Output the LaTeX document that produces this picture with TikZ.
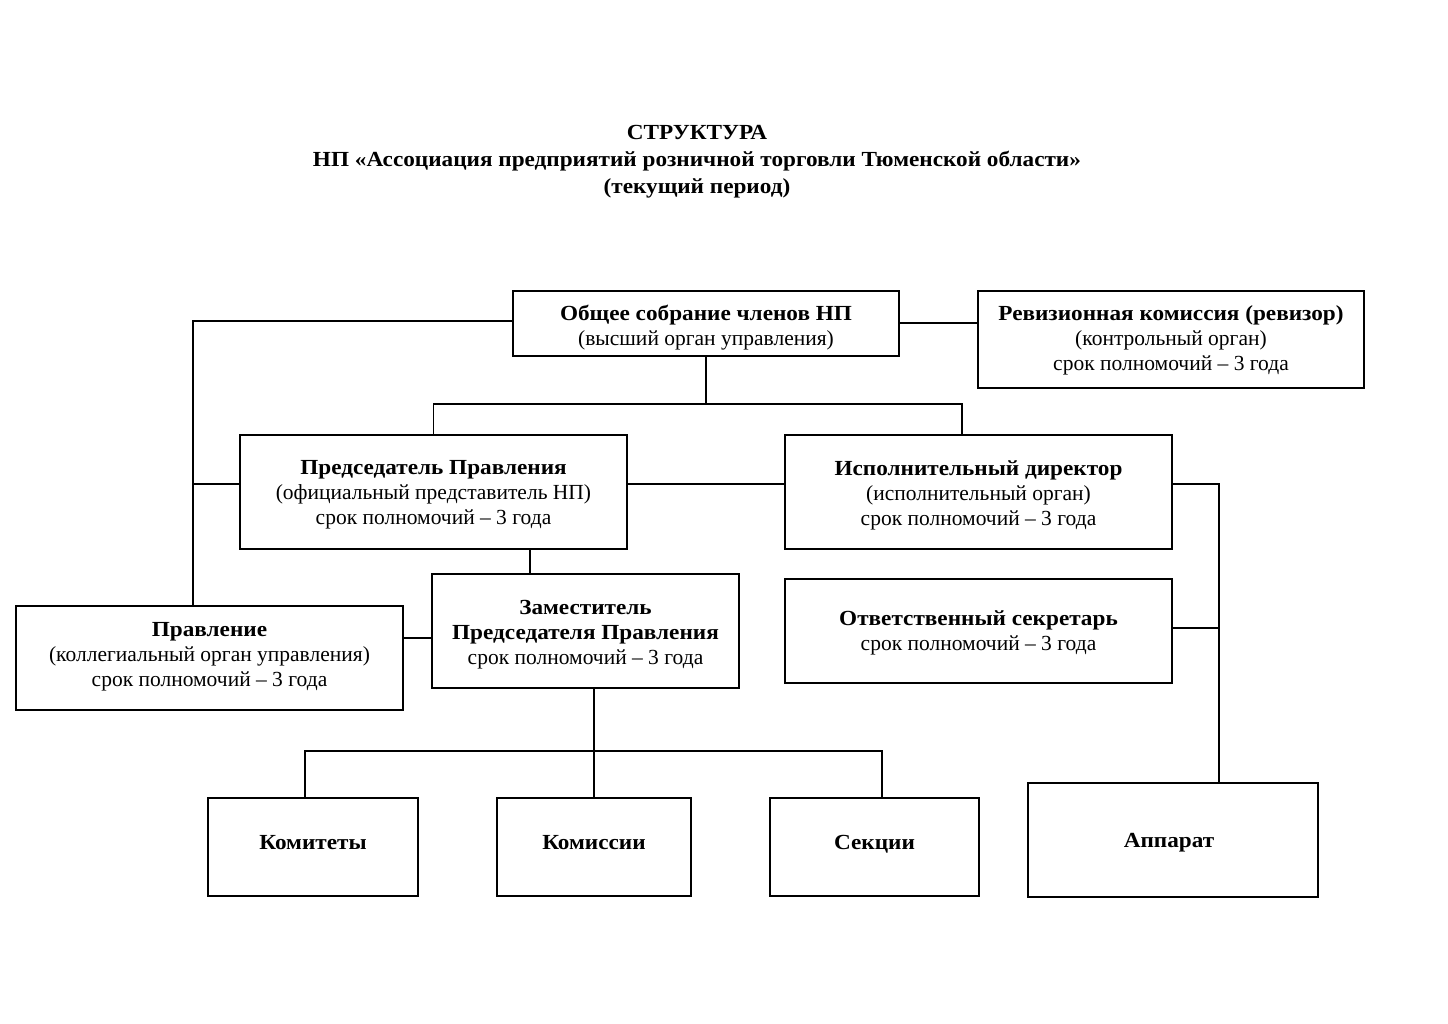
\documentclass[tikz,border=0pt]{standalone}
\usepackage{fontspec}
\setmainfont{Liberation Serif}[BoldFeatures={FakeStretch=1.08}]
\begin{document}
\begin{tikzpicture}[x=1pt,y=-1pt,
  box/.style={draw, line width=1.3pt, inner sep=0pt},
  txt/.style={inner sep=0pt, align=center, font=\fontsize{21.5}{25}\selectfont},
  conn/.style={line width=1.3pt},
  ttl/.style={inner sep=0pt, align=center, font=\fontsize{21.5}{27}\selectfont\bfseries}]
\useasboundingbox[fill=white] (0,0) rectangle (1448,1024);
\node[ttl] (title) at (697,162) {СТРУКТУРА\\НП «Ассоциация предприятий розничной торговли Тюменской области»\\(текущий период)};

\node[box, minimum width=386, minimum height=65] (gen) at (706,323.5) {};
\node[txt] (genT) at (706,328) {\textbf{Общее собрание членов НП}\\(высший орган управления)};
\node[box, minimum width=386, minimum height=97] (rev) at (1171,339.5) {};
\node[txt] (revT) at (1171,340.5) {\textbf{Ревизионная комиссия (ревизор)}\\(контрольный орган)\\срок полномочий – 3 года};
\node[box, minimum width=387, minimum height=114] (pred) at (433.5,492) {};
\node[txt] (predT) at (433.5,495) {\textbf{Председатель Правления}\\(официальный представитель НП)\\срок полномочий – 3 года};
\node[box, minimum width=387, minimum height=114] (isp) at (978.5,492) {};
\node[txt] (ispT) at (978.5,495) {\textbf{Исполнительный директор}\\(исполнительный орган)\\срок полномочий – 3 года};
\node[box, minimum width=387, minimum height=104] (prav) at (209.5,658) {};
\node[txt] (pravT) at (209.5,656.5) {\textbf{Правление}\\(коллегиальный орган управления)\\срок полномочий – 3 года};
\node[box, minimum width=307, minimum height=114] (zam) at (585.5,631) {};
\node[txt] (zamT) at (585.5,634.5) {\textbf{Заместитель}\\\textbf{Председателя Правления}\\срок полномочий – 3 года};
\node[box, minimum width=387, minimum height=104] (otv) at (978.5,631) {};
\node[txt] (otvT) at (978.5,633) {\textbf{Ответственный секретарь}\\срок полномочий – 3 года};
\node[box, minimum width=210, minimum height=98] (kmt) at (313,847) {};
\node[txt, anchor=base] (kmtT) at (313,849) {\textbf{Комитеты}};
\node[box, minimum width=194, minimum height=98] (kms) at (594,847) {};
\node[txt, anchor=base] (kmsT) at (594,849) {\textbf{Комиссии}};
\node[box, minimum width=209, minimum height=98] (sek) at (874.5,847) {};
\node[txt, anchor=base] (sekT) at (874.5,849) {\textbf{Секции}};
\node[box, minimum width=290, minimum height=114] (app) at (1173,840) {};
\node[txt, anchor=base] (appT) at (1169,847) {\textbf{Аппарат}};

\coordinate (jL) at (193,321);
\coordinate (jT) at (706,404);
\coordinate (jB) at (594,751);
\coordinate (jR) at (1219,484);
\coordinate (jP) at (530,549);

\draw[conn] ([yshift=2.5pt]gen.west) -- (jL) -- (jL |- prav.north);
\draw[conn] ([yshift=8pt]pred.west) -- ([yshift=8pt]pred.west -| jL);
\draw[conn] ([yshift=0.5pt]gen.east) -- ([yshift=0.5pt]gen.east -| rev.west);
\draw[conn] (gen.south) -- (jT);
\draw[conn] (pred.north) |- (jT) -| ([xshift=-16.5pt]isp.north);
\draw[conn] ([yshift=8pt]pred.east) -- ([yshift=8pt]isp.west);
\draw[conn] (jP) -- (jP |- zam.north);
\draw[conn] ([yshift=-7pt]zam.west) -- ([yshift=-7pt]zam.west -| prav.east);
\draw[conn] (zam.south -| jB) -- (kms.north);
\draw[conn] ([xshift=-8pt]kmt.north) |- (jB) -| ([xshift=7.5pt]sek.north);
\draw[conn] ([yshift=8pt]isp.east) -- (jR) -- (jR |- app.north);
\draw[conn] ([yshift=3pt]otv.east) -- ([yshift=3pt]otv.east -| jR);
\end{tikzpicture}
\end{document}
